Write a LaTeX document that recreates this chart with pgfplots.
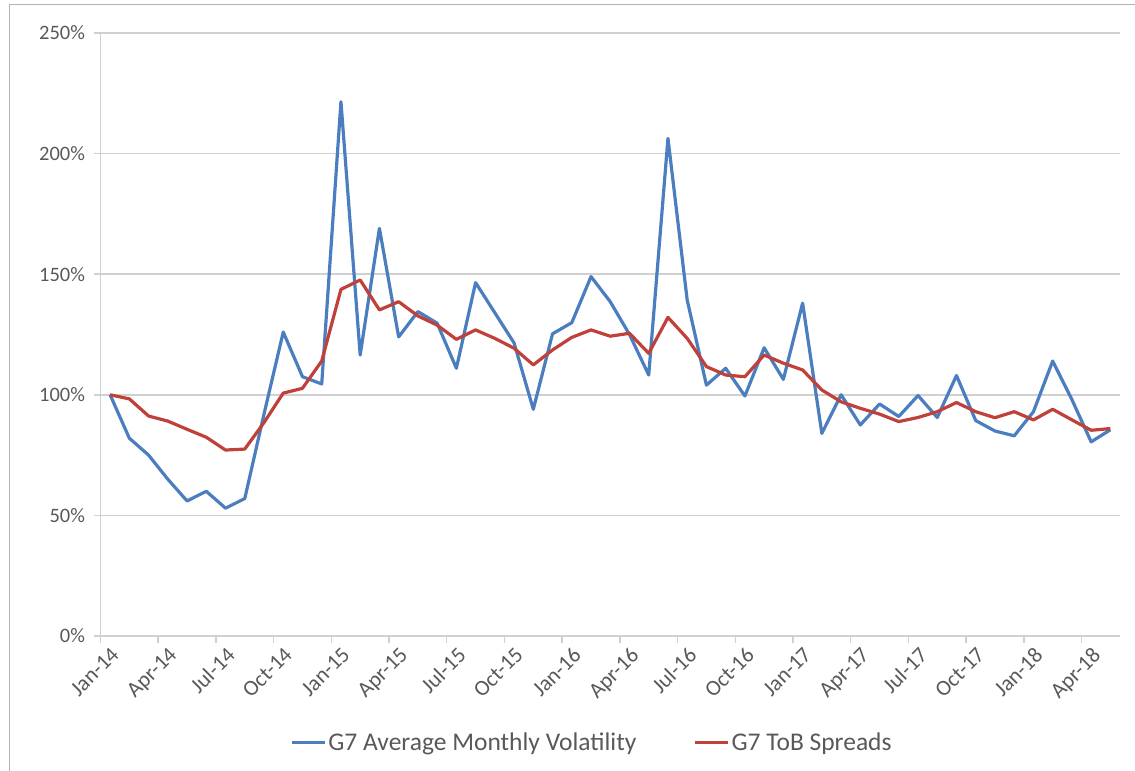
\documentclass[border=0pt]{standalone}
\usepackage{pgfplots}
\pgfplotsset{compat=1.18}
\usepackage{fontspec}
\setmainfont{Carlito}
\usetikzlibrary{calc}
\definecolor{vol}{HTML}{4A7EBF}
\definecolor{spr}{HTML}{C0403A}
\definecolor{gridc}{HTML}{D0D0D0}
\definecolor{txt}{HTML}{595959}
\begin{document}
\begin{tikzpicture}
\begin{axis}[name=ax, scale only axis, width=1019.5pt, height=603pt,
  xmin=-0.5, xmax=52.5, ymin=0, ymax=250,
  /pgf/number format/assume math mode=true,
  axis x line*=bottom, axis y line*=left,
  axis line style={draw=gridc, line width=1.5pt, -},
  tick align=outside,
  major tick length=7pt,
  ytick={0,50,100,150,200,250},
  yticklabel={\pgfmathprintnumber{\tick}\%},
  ymajorgrids, grid style={draw=gridc, line width=1.5pt},
  ytick style={draw=gridc, line width=1.5pt},
  xtick={0,3,...,51},
  xticklabels={Jan-14,Apr-14,Jul-14,Oct-14,Jan-15,Apr-15,Jul-15,Oct-15,Jan-16,Apr-16,Jul-16,Oct-16,Jan-17,Apr-17,Jul-17,Oct-17,Jan-18,Apr-18},
  xtick style={draw=none},
  extra x ticks={-0.5,2.5,...,50.5},
  extra x tick style={xticklabel={}, xtick style={draw=gridc, line width=1.5pt}},
  x tick label style={rotate=45, anchor=north east, inner sep=2pt, font=\fontsize{22}{25}\selectfont, text=txt},
  y tick label style={font=\fontsize{20.5}{24}\selectfont, text=txt, xshift=-5pt},
  legend style={at={(0.482,-0.176)}, anchor=center, draw=none, fill=none,
    legend columns=2, font=\fontsize{25.5}{29}\selectfont, text=txt,
    /tikz/every even column/.append style={column sep=55pt}},
  legend image code/.code={\draw[#1, line width=3.2pt] (0pt,0pt) -- (33pt,0pt);},
]
\addplot[vol, line width=3.2pt, line join=round] coordinates {
(0,100) (1,82) (2,75) (3,65) (4,56) (5,60) (6,53) (7,57) (8,92) (9,126)
(10,107.5) (11,104.5) (12,221.5) (13,116.5) (14,169) (15,124) (16,134.5) (17,129.7) (18,111) (19,146.5)
(20,134) (21,121.5) (22,94) (23,125.3) (24,129.9) (25,149) (26,138.6) (27,125) (28,108.2) (29,206.3)
(30,139.3) (31,104) (32,111) (33,99.5) (34,119.5) (35,106.4) (36,138) (37,84) (38,100) (39,87.5)
(40,96.2) (41,91) (42,99.7) (43,90.6) (44,108) (45,89.3) (46,85) (47,83) (48,93) (49,114)
(50,98) (51,80.5) (52,85.5)};
\addlegendentry{G7 Average Monthly Volatility}
\addplot[spr, line width=3.2pt, line join=round] coordinates {
(0,100) (1,98.3) (2,91.2) (3,89.1) (4,85.7) (5,82.4) (6,77.1) (7,77.5) (8,88.5) (9,100.7)
(10,102.7) (11,114) (12,143.7) (13,147.6) (14,135.2) (15,138.6) (16,132.7) (17,128.9) (18,123) (19,126.9)
(20,123.4) (21,119.3) (22,112.4) (23,118.6) (24,123.8) (25,126.9) (26,124.3) (27,125.5) (28,117.2) (29,132.1)
(30,123.4) (31,111.7) (32,108.2) (33,107.5) (34,116.5) (35,113.1) (36,110.3) (37,102) (38,97.1) (39,94.4)
(40,92) (41,88.9) (42,90.6) (43,93) (44,96.8) (45,93) (46,90.5) (47,93) (48,89.6) (49,94)
(50,89.6) (51,85.3) (52,86)};
\addlegendentry{G7 ToB Spreads}
\end{axis}
\draw[gray!60, line width=1pt] ($(ax.south west)+(-91pt,-140pt)$) rectangle ($(ax.north east)+(30pt,28pt)$);
\pgfresetboundingbox
\path[use as bounding box] ($(ax.south west)+(-100.5pt,-134pt)$) rectangle ($(ax.north east)+(15pt,33pt)$);
\end{tikzpicture}
\end{document}
